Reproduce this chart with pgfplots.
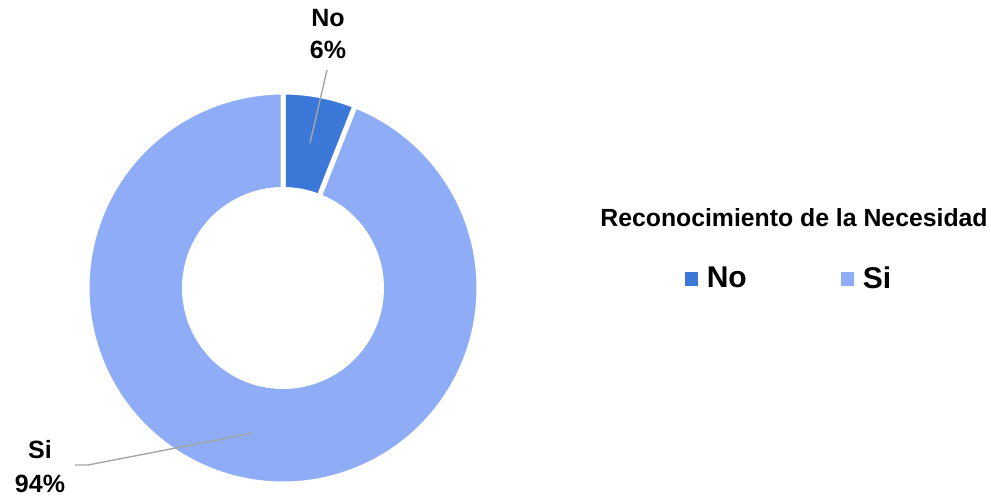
\documentclass[border=0pt]{standalone}
\usepackage{pgfplots}
\pgfplotsset{compat=1.18}
\usepackage{pgfplotstable}
\usepackage{fontspec}
\setmainfont{Liberation Sans}
\definecolor{cNo}{HTML}{3C78D8}
\definecolor{cSi}{HTML}{8EADF6}
\pgfplotstableread{
label value
No 6
Si 94
}\datatable
\pgfplotstablegetelem{0}{value}\of\datatable \let\vNo\pgfplotsretval
\pgfplotstablegetelem{1}{value}\of\datatable \let\vSi\pgfplotsretval
\begin{document}
\begin{tikzpicture}
\pgfmathsetmacro\aA{90}
\pgfmathsetmacro\aB{90-3.6*\vNo}
\pgfmathsetmacro\aC{\aB-3.6*\vSi}
\begin{axis}[scale only axis, width=495.5pt, height=247.5pt,
  xmin=0, xmax=991, ymin=0, ymax=495, hide axis, clip=false,
  legend style={at={(axis cs:790,216)}, anchor=center, draw=none, fill=none,
    legend columns=2, font=\bfseries\fontsize{15}{17}\selectfont,
    /tikz/every even column/.append style={column sep=45pt}},
  legend image code/.code={\fill[#1,draw=none] (0pt,-3.3pt) rectangle (6.6pt,3.3pt); \path[draw=none,fill=none] (0pt,0pt) -- (9pt,0pt);}]
\addplot[fill=cNo, draw=white, line width=2.5pt, domain=\aB:\aA, samples=30]
  ({283+196*cos(x)},{207+196*sin(x)}) -- (axis cs:283,207) -- cycle;
\addlegendentry{No}
\addplot[fill=cSi, draw=white, line width=2.5pt, domain=\aC:\aB, samples=150]
  ({283+196*cos(x)},{207+196*sin(x)}) -- (axis cs:283,207) -- cycle;
\addlegendentry{Si}
\addplot[fill=white, draw=none, forget plot, domain=0:360, samples=120]
  ({283+101*cos(x)},{207+101*sin(x)}) -- cycle;
\draw[gray!70, line width=0.7pt] (axis cs:310,352) -- (axis cs:327,425);
\draw[gray!70, line width=0.7pt] (axis cs:253,62) -- (axis cs:88,30) -- (axis cs:75,30);
\node[font=\bfseries\fontsize{12.5}{14}\selectfont] at (axis cs:328,477) {No};
\node[font=\bfseries\fontsize{12.5}{14}\selectfont] at (axis cs:328,445) {6\%};
\node[font=\bfseries\fontsize{12.5}{14}\selectfont] at (axis cs:40,45) {Si};
\node[font=\bfseries\fontsize{12.5}{14}\selectfont] at (axis cs:40,11) {94\%};
\node[font=\bfseries\fontsize{12.4}{14}\selectfont] at (axis cs:794,277) {Reconocimiento de la Necesidad};
\end{axis}
\pgfresetboundingbox
\path (0,0) rectangle (495.5pt,247.5pt);
\end{tikzpicture}
\end{document}
